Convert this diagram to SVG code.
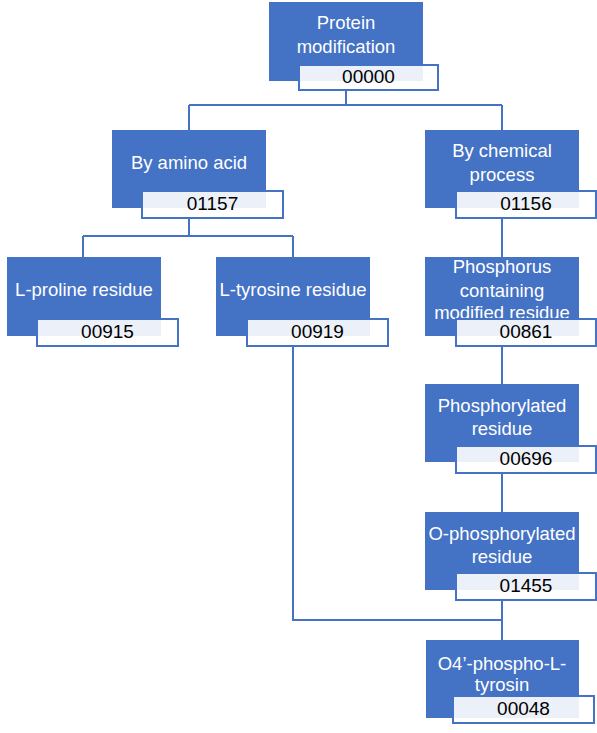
<svg xmlns="http://www.w3.org/2000/svg" width="597" height="733" viewBox="0 0 597 733">
<style>
.n{fill:#4472C4}
.b{fill:#fff;fill-opacity:0.9;stroke:#4472C4;stroke-width:2}
.t{fill:#fff;font-family:"Liberation Sans",Arial,sans-serif;font-size:18.5px;text-anchor:middle}
.d{fill:#000;font-family:"Liberation Sans",Arial,sans-serif;font-size:19px;text-anchor:middle}
.c{fill:none;stroke:#4472C4;stroke-width:2}
</style>
<rect width="597" height="733" fill="#fff"/>
<g id="connectors">
<path class="c" d="M346 90V105M189 105H502M189 105V130M502 105V130"/>
<path class="c" d="M189 218V236M83 236H293M83 236V257M293 236V257"/>
<path class="c" d="M502 218V257M502 346V384M502 473V512M502 600V640M293 346V620H502"/>
</g>
<g id="n00000"><rect class="n" x="269" y="2" width="154" height="79"/><text class="t" x="346" y="29">Protein</text><text class="t" x="346" y="53">modification</text><rect class="b" x="299" y="65" width="139" height="25"/><text class="d" x="368.5" y="83">00000</text></g>
<g id="n01157"><rect class="n" x="112" y="130" width="154" height="78"/><text class="t" x="189" y="169">By amino acid</text><rect class="b" x="142" y="191" width="141" height="27"/><text class="d" x="212.5" y="210">01157</text></g>
<g id="n01156"><rect class="n" x="425" y="130" width="154" height="78"/><text class="t" x="502" y="157">By chemical</text><text class="t" x="502" y="181">process</text><rect class="b" x="456" y="191" width="140" height="27"/><text class="d" x="526" y="210">01156</text></g>
<g id="n00915"><rect class="n" x="7" y="257" width="154" height="79"/><text class="t" x="84" y="296">L-proline residue</text><rect class="b" x="37" y="319" width="141" height="27"/><text class="d" x="107.5" y="338">00915</text></g>
<g id="n00919"><rect class="n" x="216" y="257" width="154" height="79"/><text class="t" x="293" y="296">L-tyrosine residue</text><rect class="b" x="247" y="319" width="141" height="27"/><text class="d" x="317.5" y="338">00919</text></g>
<g id="n00861"><rect class="n" x="425" y="257" width="154" height="79"/><text class="t" x="502" y="273">Phosphorus</text><text class="t" x="502" y="297">containing</text><text class="t" x="502" y="319">modified residue</text><rect class="b" x="456" y="319" width="140" height="27"/><text class="d" x="526" y="338">00861</text></g>
<g id="n00696"><rect class="n" x="425" y="384" width="154" height="78"/><text class="t" x="502" y="412">Phosphorylated</text><text class="t" x="502" y="435">residue</text><rect class="b" x="456" y="446" width="140" height="27"/><text class="d" x="526" y="465">00696</text></g>
<g id="n01455"><rect class="n" x="425" y="512" width="154" height="78"/><text class="t" x="502" y="540">O-phosphorylated</text><text class="t" x="502" y="563">residue</text><rect class="b" x="456" y="573" width="140" height="27"/><text class="d" x="526" y="592">01455</text></g>
<g id="n00048"><rect class="n" x="426" y="640" width="153" height="78"/><text class="t" x="502" y="670">O4’-phospho-L-</text><text class="t" x="502" y="691">tyrosin</text><rect class="b" x="453" y="696" width="141" height="27"/><text class="d" x="523.5" y="715">00048</text></g>
</svg>
